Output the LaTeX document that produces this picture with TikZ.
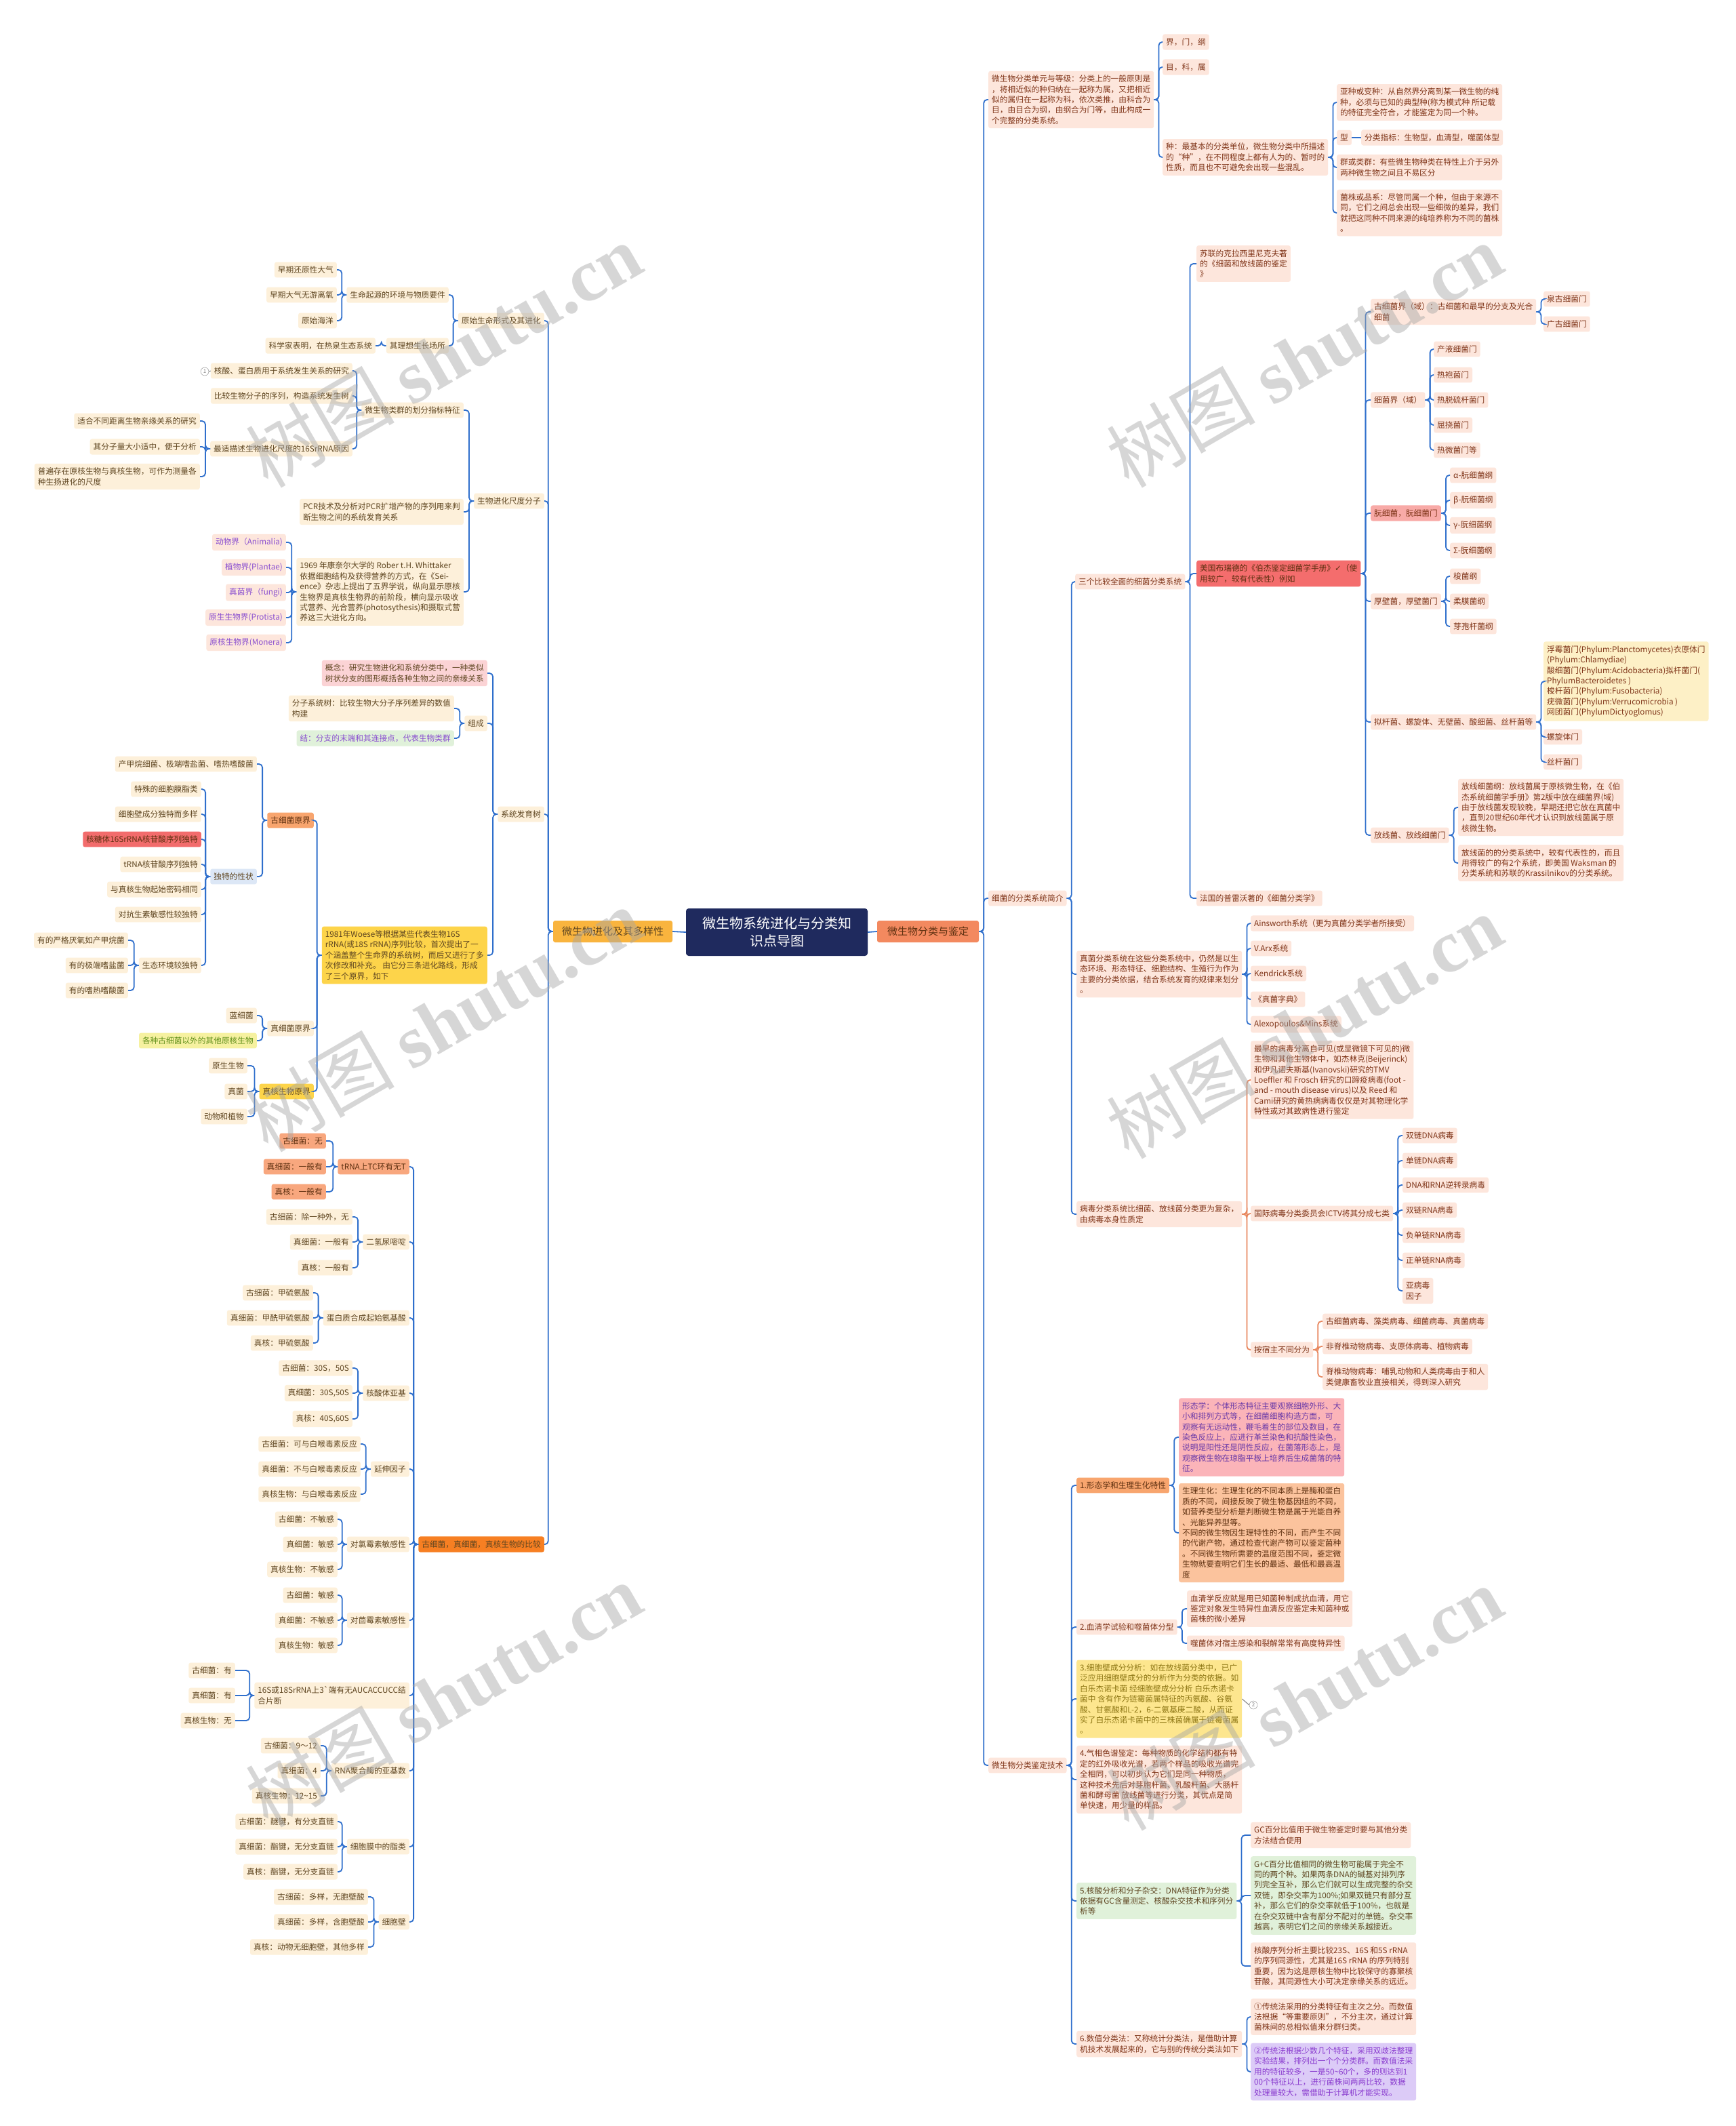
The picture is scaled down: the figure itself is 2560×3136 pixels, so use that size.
\documentclass[tikz,border=0pt]{standalone}
\usepackage{fontspec}
\setmainfont{Noto Sans CJK SC}
\newfontfamily\dejavu{DejaVu Sans}
\newfontfamily\wmserif{Liberation Serif}
\newcommand\fs{\fontsize{11.7}{15.4}\selectfont}
\definecolor{lbg}{HTML}{FDF0DA}
\definecolor{ltx}{HTML}{5E4520}
\definecolor{rbg}{HTML}{FDE6DC}
\definecolor{rtx}{HTML}{7F3418}
\definecolor{lineb}{HTML}{2F6FCC}
\definecolor{lineo}{HTML}{E8875E}
\definecolor{navy}{HTML}{1F2A5E}
\definecolor{cLM}{HTML}{F9B43E}
\definecolor{cRM}{HTML}{F3895F}
\definecolor{cpink}{HTML}{FBD3D5}
\definecolor{cgreen}{HTML}{E0F1DA}
\definecolor{cpurp}{HTML}{8A4FD0}
\definecolor{corg}{HTML}{F8A56E}
\definecolor{cyel}{HTML}{FDD44A}
\definecolor{cblue}{HTML}{DCE7F6}
\definecolor{cred}{HTML}{F26C6C}
\definecolor{cyg}{HTML}{F6F1A0}
\definecolor{tyg}{HTML}{5F8F1A}
\definecolor{cdorg}{HTML}{F77F22}
\definecolor{corg2}{HTML}{F8A77E}
\definecolor{cred2}{HTML}{F46D6D}
\definecolor{cpink2}{HTML}{F8AAA7}
\definecolor{cyel2}{HTML}{FDF0C6}
\definecolor{cmorph}{HTML}{FBB4B9}
\definecolor{tmorph}{HTML}{6A3AA8}
\definecolor{cphys}{HTML}{FBC39D}
\definecolor{cwall}{HTML}{FDE68E}
\definecolor{twall}{HTML}{8D7614}
\definecolor{clav}{HTML}{DCCBF7}
\definecolor{tlav}{HTML}{8A3CCF}
\definecolor{tdark}{HTML}{5E3010}
\tikzset{
  nb/.style={rounded corners=3pt, inner xsep=5pt, inner ysep=6pt, align=left, font=\fs},
  ln/.style={nb, fill=lbg, text=ltx, anchor=east},
  rn/.style={nb, fill=rbg, text=rtx, anchor=west},
  conn/.style={draw=lineb, line width=1.8pt, rounded corners=5pt},
  conno/.style={draw=lineo, line width=1.8pt, rounded corners=5pt},
  circmark/.style={circle, draw=gray, text=gray, inner sep=0pt, minimum size=12pt, font=\fontsize{8}{8}\selectfont},
}
\newcommand\lc[2]{\draw[conn] (#1.west) -- ++(-7,0) |- (#2.east);}
\newcommand\rc[2]{\draw[conn] (#1.east) -- ++(7,0) |- (#2.west);}
\newcommand\rco[2]{\draw[conno] (#1.east) -- ++(7,0) |- (#2.west);}
\begin{document}
\begin{tikzpicture}[x=1pt,y=-1pt]
\useasboundingbox (0,0) rectangle (2560,3136);
\fill[white] (0,0) rectangle (2560,3136);

% ===== centre =====
\node[fill=navy, text=white, rounded corners=4pt, minimum width=268pt, minimum height=70pt, align=center, font=\fontsize{20}{26}\selectfont] (root) at (1146,1375) {微生物系统进化与分类知\\识点导图};
\node[fill=cLM, text=ltx, rounded corners=3pt, minimum width=176pt, minimum height=32pt, font=\fontsize{15}{18}\selectfont] (LM) at (904,1374) {微生物进化及其多样性};
\node[fill=cRM, text=tdark, rounded corners=3pt, minimum width=150pt, minimum height=32pt, font=\fontsize{15}{18}\selectfont] (RM) at (1369,1374) {微生物分类与鉴定};
\draw[conn] (root.west) -- (LM.east);
\draw[conn] (root.east) -- (RM.west);

% ===== LEFT =====
\node[ln] (L1) at (803,473) {原始生命形式及其进化};
\node[ln] (L2) at (803,739) {生物进化尺度分子};
\node[ln] (L3) at (803,1201) {系统发育树};
\node[ln, fill=cdorg, text=ltx] (L4) at (803,2278) {古细菌，真细菌，真核生物的比较};

\node[ln] (L1a) at (662,435) {生命起源的环境与物质要件};
\node[ln] (L1b) at (662,510) {其理想生长场所};
\node[ln] (L1a1) at (497,398) {早期还原性大气};
\node[ln] (L1a2) at (497,435) {早期大气无游离氧};
\node[ln] (L1a3) at (497,473) {原始海洋};
\node[ln] (L1b1) at (554,510) {科学家表明，在热泉生态系统};

\node[ln] (L2a) at (684,605) {微生物类群的划分指标特征};
\node[ln] (L2b) at (684,755) {PCR技术及分析对PCR扩增产物的序列用来判\\断生物之间的系统发育关系};
\node[ln] (L2c) at (684,873) {1969 年康奈尔大学的 Rober t.H. Whittaker\\依据细胞结构及获得营养的方式，在《Sei-\\ence》杂志上提出了五界学说，纵向显示原核\\生物界是真核生物界的前阶段，横向显示吸收\\式营养、光合营养(photosythesis)和摄取式营\\养这三大进化方向。};
\node[ln] (L2a1) at (520,547) {核酸、蛋白质用于系统发生关系的研究};
\node[ln] (L2a2) at (520,584) {比较生物分子的序列，构造系统发生树};
\node[ln] (L2a3) at (520,662) {最适描述生物进化尺度的16SrRNA原因};
\node[ln] (L2a3a) at (295,621) {适合不同距离生物亲缘关系的研究};
\node[ln] (L2a3b) at (295,659) {其分子量大小适中，便于分析};
\node[ln] (L2a3c) at (295,703) {普遍存在原核生物与真核生物，可作为测量各\\种生扬进化的尺度};
\node[ln, fill=rbg, text=cpurp] (L2c1) at (422,800) {动物界（Animalia)};
\node[ln, fill=rbg, text=cpurp] (L2c2) at (422,837) {植物界(Plantae)};
\node[ln, fill=rbg, text=cpurp] (L2c3) at (422,874) {真菌界（fungi)};
\node[ln, fill=rbg, text=cpurp] (L2c4) at (422,911) {原生生物界(Protista)};
\node[ln, fill=rbg, text=cpurp] (L2c5) at (422,948) {原核生物界(Monera)};
\node[circmark] (m1) at (302,548) {1};
\draw[gray, line width=1pt] (m1.east) -- (L2a1.west);

\node[ln, fill=cpink] (L3a) at (719,993) {概念：研究生物进化和系统分类中，一种类似\\树状分支的图形概括各种生物之间的亲缘关系};
\node[ln] (L3b) at (719,1067) {组成};
\node[ln, fill=cyel] (L3c) at (719,1409) {1981年Woese等根据某些代表生物16S\\rRNA(或18S rRNA)序列比较，首次提出了一\\个涵盖整个生命界的系统树，而后又进行了多\\次修改和补充。 由它分三条进化路线，形成\\了三个原界，如下};
\node[ln] (L3b1) at (670,1045) {分子系统树：比较生物大分子序列差异的数值\\构建};
\node[ln, fill=cgreen, text=cpurp] (L3b2) at (670,1089) {结：分支的末端和其连接点，代表生物类群};
\node[ln, fill=corg, text=tdark] (L3c1) at (463,1210) {古细菌原界};
\node[ln] (L3c2) at (463,1517) {真细菌原界};
\node[ln, fill=cyel] (L3c3) at (463,1610) {真核生物原界};
\node[ln] (L3c1a) at (379,1127) {产甲烷细菌、极端嗜盐菌、嗜热嗜酸菌};
\node[ln, fill=cblue] (L3c1b) at (379,1293) {独特的性状};
\node[ln] (L3c1b1) at (297,1164) {特殊的细胞膜脂类};
\node[ln] (L3c1b2) at (297,1201) {细胞壁成分独特而多样};
\node[ln, fill=cred, text=tdark] (L3c1b3) at (297,1238) {核糖体16SrRNA核苷酸序列独特};
\node[ln] (L3c1b4) at (297,1275) {tRNA核苷酸序列独特};
\node[ln] (L3c1b5) at (297,1312) {与真核生物起始密码相同};
\node[ln] (L3c1b6) at (297,1349) {对抗生素敏感性较独特};
\node[ln] (L3c1b7) at (297,1424) {生态环境较独特};
\node[ln] (L3c1b7a) at (189,1387) {有的严格厌氧如产甲烷菌};
\node[ln] (L3c1b7b) at (189,1424) {有的极端嗜盐菌};
\node[ln] (L3c1b7c) at (189,1461) {有的嗜热嗜酸菌};
\node[ln] (L3c2a) at (379,1498) {蓝细菌};
\node[ln, fill=cyg, text=tyg] (L3c2b) at (379,1535) {各种古细菌以外的其他原核生物};
\node[ln] (L3c3a) at (365,1572) {原生生物};
\node[ln] (L3c3b) at (365,1610) {真菌};
\node[ln] (L3c3c) at (365,1647) {动物和植物};

\node[ln, fill=corg2, text=tdark] (L4a) at (604,1721) {tRNA上TC环有无T};
\node[ln, fill=corg2, text=tdark] (L4a1) at (481,1683) {古细菌：无};
\node[ln, fill=corg2, text=tdark] (L4a2) at (481,1721) {真细菌：一般有};
\node[ln, fill=corg2, text=tdark] (L4a3) at (481,1758) {真核：一般有};
\node[ln] (L4b) at (604,1832) {二氢尿嘧啶};
\node[ln] (L4b1) at (520,1795) {古细菌：除一种外，无};
\node[ln] (L4b2) at (520,1832) {真细菌：一般有};
\node[ln] (L4b3) at (520,1870) {真核：一般有};
\node[ln] (L4c) at (604,1944) {蛋白质合成起始氨基酸};
\node[ln] (L4c1) at (462,1907) {古细菌：甲硫氨酸};
\node[ln] (L4c2) at (462,1944) {真细菌：甲酰甲硫氨酸};
\node[ln] (L4c3) at (462,1981) {真核：甲硫氨酸};
\node[ln] (L4d) at (604,2055) {核酸体亚基};
\node[ln] (L4d1) at (520,2018) {古细菌：30S，50S};
\node[ln] (L4d2) at (520,2055) {真细菌：30S,50S};
\node[ln] (L4d3) at (520,2093) {真核：40S,60S};
\node[ln] (L4e) at (604,2167) {延伸因子};
\node[ln] (L4e1) at (532,2130) {古细菌：可与白喉毒素反应};
\node[ln] (L4e2) at (532,2167) {真细菌：不与白喉毒素反应};
\node[ln] (L4e3) at (532,2204) {真核生物：与白喉毒素反应};
\node[ln] (L4f) at (604,2278) {对氯霉素敏感性};
\node[ln] (L4f1) at (498,2241) {古细菌：不敏感};
\node[ln] (L4f2) at (498,2278) {真细菌：敏感};
\node[ln] (L4f3) at (498,2315) {真核生物：不敏感};
\node[ln] (L4g) at (604,2390) {对茴霉素敏感性};
\node[ln] (L4g1) at (498,2353) {古细菌：敏感};
\node[ln] (L4g2) at (498,2390) {真细菌：不敏感};
\node[ln] (L4g3) at (498,2427) {真核生物：敏感};
\node[ln] (L4h) at (604,2501) {16S或18SrRNA上3\textasciigrave 端有无AUCACCUCC结\\合片断};
\node[ln] (L4h1) at (347,2464) {古细菌：有};
\node[ln] (L4h2) at (347,2501) {真细菌：有};
\node[ln] (L4h3) at (347,2538) {真核生物：无};
\node[ln] (L4i) at (604,2612) {RNA聚合酶的亚基数};
\node[ln] (L4i1) at (473,2575) {古细菌：9～12};
\node[ln] (L4i2) at (473,2612) {真细菌：4};
\node[ln] (L4i3) at (473,2649) {真核生物：12\textasciitilde 15};
\node[ln] (L4j) at (604,2724) {细胞膜中的脂类};
\node[ln] (L4j1) at (498,2687) {古细菌：醚键，有分支直链};
\node[ln] (L4j2) at (498,2724) {真细菌：酯键，无分支直链};
\node[ln] (L4j3) at (498,2761) {真核：酯键，无分支直链};
\node[ln] (L4k) at (604,2835) {细胞壁};
\node[ln] (L4k1) at (543,2798) {古细菌：多样，无胞壁酸};
\node[ln] (L4k2) at (543,2835) {真细菌：多样，含胞壁酸};
\node[ln] (L4k3) at (543,2872) {真核：动物无细胞壁，其他多样};

% left connectors
\foreach \c in {L1,L2,L3,L4} {\lc{LM}{\c}}
\foreach \c in {L1a,L1b} {\lc{L1}{\c}}
\foreach \c in {L1a1,L1a2,L1a3} {\lc{L1a}{\c}}
\lc{L1b}{L1b1}
\foreach \c in {L2a,L2b,L2c} {\lc{L2}{\c}}
\foreach \c in {L2a1,L2a2,L2a3} {\lc{L2a}{\c}}
\foreach \c in {L2a3a,L2a3b,L2a3c} {\lc{L2a3}{\c}}
\foreach \c in {L2c1,L2c2,L2c3,L2c4,L2c5} {\lc{L2c}{\c}}
\foreach \c in {L3a,L3b,L3c} {\lc{L3}{\c}}
\foreach \c in {L3b1,L3b2} {\lc{L3b}{\c}}
\foreach \c in {L3c1,L3c2,L3c3} {\lc{L3c}{\c}}
\foreach \c in {L3c1a,L3c1b} {\lc{L3c1}{\c}}
\foreach \c in {L3c1b1,L3c1b2,L3c1b3,L3c1b4,L3c1b5,L3c1b6,L3c1b7} {\lc{L3c1b}{\c}}
\foreach \c in {L3c1b7a,L3c1b7b,L3c1b7c} {\lc{L3c1b7}{\c}}
\foreach \c in {L3c2a,L3c2b} {\lc{L3c2}{\c}}
\foreach \c in {L3c3a,L3c3b,L3c3c} {\lc{L3c3}{\c}}
\foreach \c in {L4a,L4b,L4c,L4d,L4e,L4f,L4g,L4h,L4i,L4j,L4k} {\lc{L4}{\c}}
\foreach \p in {L4a,L4b,L4c,L4d,L4e,L4f,L4g,L4h,L4i,L4j,L4k} {
  \foreach \k in {1,2,3} {\lc{\p}{\p\k}}
}

% ===== RIGHT =====
\node[rn] (R1) at (1458,147) {微生物分类单元与等级：分类上的一般原则是\\，将相近似的种归纳在一起称为属，又把相近\\似的属归在一起称为科，依次类推，由科合为\\目，由目合为纲，由纲合为门等，由此构成一\\个完整的分类系统。};
\node[rn] (R2) at (1458,1325) {细菌的分类系统简介};
\node[rn] (R3) at (1458,2604) {微生物分类鉴定技术};

\node[rn] (R1a) at (1715,62) {界，门，纲};
\node[rn] (R1b) at (1715,99) {目，科，属};
\node[rn] (R1c) at (1715,232) {种：最基本的分类单位，微生物分类中所描述\\的“种”，在不同程度上都有人为的、暂时的\\性质，而且也不可避免会出现一些混乱。};
\node[rn] (R1c1) at (1972,151) {亚种或变种：从自然界分离到某一微生物的纯\\种，必须与已知的典型种(称为模式种 所记载\\的特征完全符合，才能鉴定为同一个种。};
\node[rn] (R1c2) at (1972,203) {型};
\node[rn] (R1c2a) at (2008,203) {分类指标：生物型，血清型，噬菌体型};
\node[rn] (R1c3) at (1972,247) {群或类群：有些微生物种类在特性上介于另外\\两种微生物之间且不易区分};
\node[rn] (R1c4) at (1972,314) {菌株或品系：尽管同属一个种，但由于来源不\\同，它们之间总会出现一些细微的差异，我们\\就把这同种不同来源的纯培养称为不同的菌株\\。};

\node[rn] (R2a) at (1586,858) {三个比较全面的细菌分类系统};
\node[rn] (R2a1) at (1765,389) {苏联的克拉西里尼克夫著\\的《细菌和放线菌的鉴定\\》};
\node[rn, fill=cred2, text=tdark] (R2a2) at (1765,846) {美国布瑞德的《伯杰鉴定细菌学手册》{\dejavu ✓}（使\\用较广，较有代表性）例如};
\node[rn] (R2a3) at (1765,1325) {法国的普雷沃著的《细菌分类学》};
\node[rn] (R2a2a) at (2022,460) {古细菌界（域）：古细菌和最早的分支及光合\\细菌};
\node[rn] (R2a2a1) at (2277,441) {泉古细菌门};
\node[rn] (R2a2a2) at (2277,478) {广古细菌门};
\node[rn] (R2a2b) at (2022,590) {细菌界（域）};
\node[rn] (R2a2b1) at (2115,515) {产液细菌门};
\node[rn] (R2a2b2) at (2115,553) {热袍菌门};
\node[rn] (R2a2b3) at (2115,590) {热脱硫杆菌门};
\node[rn] (R2a2b4) at (2115,627) {屈挠菌门};
\node[rn] (R2a2b5) at (2115,664) {热微菌门等};
\node[rn, fill=cpink2] (R2a2c) at (2022,757) {朊细菌，朊细菌门};
\node[rn] (R2a2c1) at (2139,701) {α-朊细菌纲};
\node[rn] (R2a2c2) at (2139,738) {β-朊细菌纲};
\node[rn] (R2a2c3) at (2139,775) {γ-朊细菌纲};
\node[rn] (R2a2c4) at (2139,812) {Σ-朊细菌纲};
\node[rn] (R2a2d) at (2022,887) {厚壁菌，厚壁菌门};
\node[rn] (R2a2d1) at (2139,850) {梭菌纲};
\node[rn] (R2a2d2) at (2139,887) {柔膜菌纲};
\node[rn] (R2a2d3) at (2139,924) {芽孢杆菌纲};
\node[rn] (R2a2e) at (2022,1065) {拟杆菌、螺旋体、无壁菌、酸细菌、丝杆菌等};
\node[rn, fill=cyel2] (R2a2e1) at (2277,1005) {浮霉菌门(Phylum:Planctomycetes)衣原体门\\(Phylum:Chlamydiae)\\酸细菌门(Phylum:Acidobacteria)拟杆菌门(\\PhylumBacteroidetes )\\梭杆菌门(Phylum:Fusobacteria)\\疣微菌门(Phylum:Verrucomicrobia )\\网团菌门(PhylumDictyoglomus)};
\node[rn] (R2a2e2) at (2277,1087) {螺旋体门};
\node[rn] (R2a2e3) at (2277,1124) {丝杆菌门};
\node[rn] (R2a2f) at (2022,1232) {放线菌、放线细菌门};
\node[rn] (R2a2f1) at (2151,1191) {放线细菌纲：放线菌属于原核微生物，在《伯\\杰系统细菌学手册》第2版中放在细菌界(域)\\由于放线菌发现较晚，早期还把它放在真菌中\\，直到20世纪60年代才认识到放线菌属于原\\核微生物。};
\node[rn] (R2a2f2) at (2151,1273) {放线菌的的分类系统中，较有代表性的，而且\\用得较广的有2个系统，即美国 Waksman 的\\分类系统和苏联的Krassilnikov的分类系统。};

\node[rn] (R2b) at (1588,1437) {真菌分类系统在这些分类系统中，仍然是以生\\态环境、形态特征、细胞结构、生殖行为作为\\主要的分类依据，结合系统发育的规律来划分\\。};
\node[rn] (R2b1) at (1845,1362) {Ainsworth系统（更为真菌分类学者所接受）};
\node[rn] (R2b2) at (1845,1399) {V.Arx系统};
\node[rn] (R2b3) at (1845,1436) {Kendrick系统};
\node[rn] (R2b4) at (1845,1474) {《真菌字典》};
\node[rn] (R2b5) at (1845,1511) {Alexopoulos\&Mins系统};

\node[rn] (R2c) at (1588,1791) {病毒分类系统比细菌、放线菌分类更为复杂，\\由病毒本身性质定};
\node[rn] (R2c1) at (1845,1593) {最早的病毒分离自可见(或显微镜下可见的)微\\生物和其他生物体中，如杰林克(Beijerinck)\\和伊凡诺夫斯基(Ivanovski)研究的TMV\\Loeffler 和 Frosch 研究的口蹄疫病毒(foot -\\and - mouth disease virus)以及 Reed 和\\Cami研究的黄热病病毒仅仅是对其物理化学\\特性或对其致病性进行鉴定};
\node[rn] (R2c2) at (1845,1790) {国际病毒分类委员会ICTV将其分成七类};
\node[rn] (R2c21) at (2069,1675) {双链DNA病毒};
\node[rn] (R2c22) at (2069,1712) {单链DNA病毒};
\node[rn] (R2c23) at (2069,1748) {DNA和RNA逆转录病毒};
\node[rn] (R2c24) at (2069,1785) {双链RNA病毒};
\node[rn] (R2c25) at (2069,1822) {负单链RNA病毒};
\node[rn] (R2c26) at (2069,1859) {正单链RNA病毒};
\node[rn] (R2c27) at (2069,1904) {亚病毒\\因子};
\node[rn] (R2c3) at (1845,1991) {按宿主不同分为};
\node[rn] (R2c31) at (1951,1949) {古细菌病毒、藻类病毒、细菌病毒、真菌病毒};
\node[rn] (R2c32) at (1951,1986) {非脊椎动物病毒、支原体病毒、植物病毒};
\node[rn] (R2c33) at (1951,2031) {脊椎动物病毒：哺乳动物和人类病毒由于和人\\类健康畜牧业直接相关，得到深入研究};

\node[rn, fill=corg, text=tdark] (R3a) at (1588,2191) {1.形态学和生理生化特性};
\node[rn, fill=cmorph, text=tmorph] (R3a1) at (1739,2120) {形态学：个体形态特征主要观察细胞外形、大\\小和排列方式等，在细菌细胞构造方面，可\\观察有无运动性，鞭毛着生的部位及数目，在\\染色反应上，应进行革兰染色和抗酸性染色，\\说明是阳性还是阴性反应，在菌落形态上，是\\观察微生物在琼脂平板上培养后生成菌落的特\\征。};
\node[rn, fill=cphys, text=tdark] (R3a2) at (1739,2261) {生理生化：生理生化的不同本质上是酶和蛋白\\质的不同，间接反映了微生物基因组的不同，\\如营养类型分析是判断微生物是属于光能自养\\、光能异养型等。\\不同的微生物因生理特性的不同，而产生不同\\的代谢产物，通过检查代谢产物可以鉴定菌种\\。不同微生物所需要的温度范围不同，鉴定微\\生物就要查明它们生长的最适、最低和最高温\\度};
\node[rn] (R3b) at (1588,2400) {2.血清学试验和噬菌体分型};
\node[rn] (R3b1) at (1751,2373) {血清学反应就是用已知菌种制成抗血清，用它\\鉴定对象发生特异性血清反应鉴定未知菌种或\\菌株的微小差异};
\node[rn] (R3b2) at (1751,2424) {噬菌体对宿主感染和裂解常常有高度特异性};
\node[rn, fill=cwall, text=twall] (R3c) at (1588,2506) {3.细胞壁成分分析：如在放线菌分类中，已广\\泛应用细胞壁成分的分析作为分类的依据。如\\白乐杰诺卡菌 经细胞壁成分分析 白乐杰诺卡\\菌中 含有作为链霉菌属特征的丙氨酸、谷氨\\酸、甘氨酸和L-2，6-二氨基庚二酸，从而证\\实了白乐杰诺卡菌中的三株菌确属于链霉菌属\\。};
\node[circmark] (m2) at (1849,2515) {2};
\draw[gray, line width=1pt] (R3c.east) -- (m2.west);
\node[rn] (R3d) at (1588,2625) {4.气相色谱鉴定：每种物质的化学结构都有特\\定的红外吸收光谱，若两个样品的吸收光谱完\\全相同，可以初步认为它们是同一种物质，\\这种技术先后对芽胞杆菌、乳酸杆菌、大肠杆\\菌和酵母菌 放线菌等进行分类，其优点是简\\单快速，用少量的样品。};
\node[rn, fill=cgreen, text=ltx] (R3e) at (1588,2804) {5.核酸分析和分子杂交：DNA特征作为分类\\依据有GC含量测定、核酸杂交技术和序列分\\析等};
\node[rn] (R3e1) at (1845,2707) {GC百分比值用于微生物鉴定时要与其他分类\\方法结合使用};
\node[rn, fill=cgreen, text=ltx] (R3e2) at (1845,2796) {G+C百分比值相同的微生物可能属于完全不\\同的两个种。如果两条DNA的碱基对排列序\\列完全互补，那么它们就可以生成完整的杂交\\双链，即杂交率为100\%;如果双链只有部分互\\补，那么它们的杂交率就低于100\%，也就是\\在杂交双链中含有部分不配对的单链。杂交率\\越高，表明它们之间的亲缘关系越接近。};
\node[rn] (R3e3) at (1845,2900) {核酸序列分析主要比较23S、16S 和5S rRNA\\的序列同源性，尤其是16S rRNA 的序列特别\\重要，因为这是原核生物中比较保守的寡聚核\\苷酸，其同源性大小可决定亲缘关系的远近。};
\node[rn] (R3f) at (1588,3015) {6.数值分类法：又称统计分类法，是借助计算\\机技术发展起来的，它与别的传统分类法如下};
\node[rn] (R3f1) at (1845,2975) {①传统法采用的分类特征有主次之分。而数值\\法根据“等重要原则”，不分主次，通过计算\\菌株间的总相似值来分群归类。};
\node[rn, fill=clav, text=tlav] (R3f2) at (1845,3056) {②传统法根据少数几个特征，采用双歧法整理\\实验结果，排列出一个个分类群。而数值法采\\用的特征较多，一是50\textasciitilde 60个，多的则达到1\\00个特征以上，进行菌株间两两比较，数据\\处理量较大，需借助于计算机才能实现。};

% right connectors
\foreach \c in {R1,R2,R3} {\rc{RM}{\c}}
\foreach \c in {R1a,R1b,R1c} {\rc{R1}{\c}}
\foreach \c in {R1c1,R1c2,R1c3,R1c4} {\rc{R1c}{\c}}
\draw[conn] (R1c2.east) -- (R1c2a.west);
\foreach \c in {R2a,R2b,R2c} {\rc{R2}{\c}}
\foreach \c in {R2a1,R2a2,R2a3} {\rc{R2a}{\c}}
\foreach \c in {R2a2a,R2a2b,R2a2c,R2a2d,R2a2e,R2a2f} {\rc{R2a2}{\c}}
\foreach \c in {R2a2a1,R2a2a2} {\rc{R2a2a}{\c}}
\foreach \c in {R2a2b1,R2a2b2,R2a2b3,R2a2b4,R2a2b5} {\rc{R2a2b}{\c}}
\foreach \c in {R2a2c1,R2a2c2,R2a2c3,R2a2c4} {\rc{R2a2c}{\c}}
\foreach \c in {R2a2d1,R2a2d2,R2a2d3} {\rc{R2a2d}{\c}}
\foreach \c in {R2a2e1,R2a2e2,R2a2e3} {\rc{R2a2e}{\c}}
\foreach \c in {R2a2f1,R2a2f2} {\rc{R2a2f}{\c}}
\foreach \c in {R2b1,R2b2,R2b3,R2b4,R2b5} {\rc{R2b}{\c}}
\foreach \c in {R2c1,R2c2,R2c3} {\rco{R2c}{\c}}
\foreach \c in {R2c21,R2c22,R2c23,R2c24,R2c25,R2c26,R2c27} {\rc{R2c2}{\c}}
\foreach \c in {R2c31,R2c32,R2c33} {\rco{R2c3}{\c}}
\foreach \c in {R3a,R3b,R3c,R3d,R3e,R3f} {\rc{R3}{\c}}
\foreach \c in {R3a1,R3a2} {\rc{R3a}{\c}}
\foreach \c in {R3b1,R3b2} {\rc{R3b}{\c}}
\foreach \c in {R3e1,R3e2,R3e3} {\rc{R3e}{\c}}
\foreach \c in {R3f1,R3f2} {\rc{R3f}{\c}}

% ===== watermarks =====
\foreach \x/\y in {654/524, 1924/524, 654/1504, 1924/1514, 654/2500, 1924/2505} {
  \node[rotate=30, text=black!35, opacity=0.45, font=\fontsize{110}{110}\selectfont] at (\x,\y) {树图 {\wmserif\bfseries shutu.cn}};
}
\end{tikzpicture}
\end{document}
